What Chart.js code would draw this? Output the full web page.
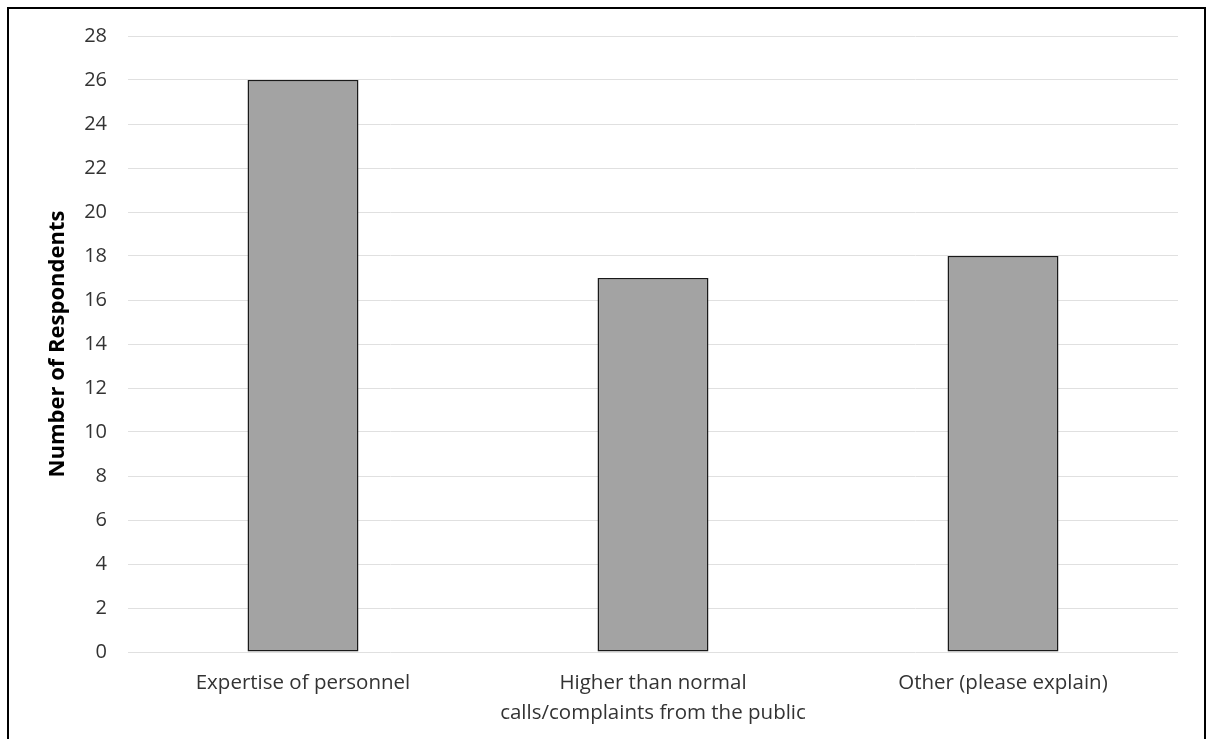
<!DOCTYPE html>
<html>
<head>
<meta charset="utf-8">
<script src="https://cdn.jsdelivr.net/npm/chart.js@4"></script>
<style>
  html, body { margin: 0; padding: 0; background: #fff; overflow: hidden; }
  #frame {
    position: absolute;
    left: 7px;
    top: 7px;
    width: 1195px;
    height: 760px;
    border: 2px solid #000;
  }
  #wrap { position: absolute; left: 0; top: 0; width: 1195px; height: 730px; }
</style>
</head>
<body>
<div id="frame">
  <div id="wrap"><canvas id="myChart"></canvas></div>
</div>
<script>
// Chart data
const categories = [
  "Expertise of personnel",
  ["Higher than normal", "calls/complaints from the public"],
  "Other (please explain)",
];
const respondents = [26, 17, 18];
const yTicks = [0, 2, 4, 6, 8, 10, 12, 14, 16, 18, 20, 22, 24, 26, 28];

const fontFamily = "'Open Sans', Lato, sans-serif";
const textColor = "#333333";

const ctx = document.getElementById("myChart").getContext("2d");

new Chart(ctx, {
  type: "bar",
  data: {
    labels: categories,
    datasets: [
      {
        label: "Number of Respondents",
        data: respondents,
        backgroundColor: "#a3a3a3",
        borderColor: "#1a1a1a",
        borderWidth: 1.5,
        borderSkipped: false,
        categoryPercentage: 1,
        barPercentage: 0.317,
      },
    ],
  },
  options: {
    responsive: true,
    maintainAspectRatio: false,
    animation: false,
    layout: {
      padding: { top: 27, right: 26, left: 0, bottom: 0 },
    },
    plugins: {
      legend: { display: false },
      tooltip: { enabled: false },
    },
    scales: {
      x: {
        grid: { display: false, drawTicks: false },
        border: { display: false },
        ticks: {
          color: textColor,
          font: { family: fontFamily, size: 20.5, lineHeight: 1.46 },
          padding: 16,
          maxRotation: 0,
          autoSkip: false,
        },
        afterFit: (scale) => {
          scale.height = 730 - (652 - 9);
          scale.paddingLeft = 0;
          scale.paddingRight = 0;
        },
      },
      y: {
        min: 0,
        max: 28,
        afterBuildTicks: (scale) => {
          scale.ticks = yTicks.map((v) => ({ value: v }));
        },
        grid: { color: "#e0e0e0", lineWidth: 1, drawTicks: false },
        border: { display: false },
        ticks: {
          color: textColor,
          font: { family: fontFamily, size: 20 },
          padding: 21,
        },
        title: {
          display: true,
          text: "Number of Respondents",
          color: "#000",
          font: { family: fontFamily, size: 22, weight: "bold", lineHeight: 1.2 },
          padding: { top: 36, bottom: 0 },
        },
        afterFit: (scale) => {
          scale.width = 128 - 9;
          scale.paddingTop = 0;
          scale.paddingBottom = 0;
        },
      },
    },
  },
});
</script>
</body>
</html>
